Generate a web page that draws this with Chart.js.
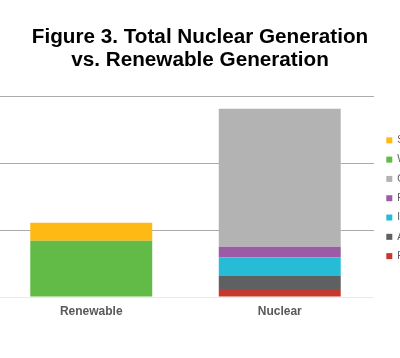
<!DOCTYPE html>
<html><head><meta charset="utf-8">
<script src="https://cdn.jsdelivr.net/npm/chart.js@4.4.1/dist/chart.umd.min.js"></script>
<style>
html,body{margin:0;padding:0;background:#fff;overflow:hidden}
#wrap{position:relative;width:400px;height:358px;overflow:hidden;background:#fff}
#c{position:absolute;left:-3px;top:0}
</style></head><body>
<div id="wrap"><canvas id="c" width="406" height="358"></canvas></div>
<script>
const categories = ["Renewable", "Nuclear"];
// series listed bottom-of-stack first
const seriesNames = ["River Bend", "Arkansas Nuclear One", "Indian Point", "Palo Verde", "Other", "Wind", "Solar"];
const seriesColors = ["#C5392F", "#5F6062", "#27BCD6", "#9B5BA5", "#B3B3B3", "#62BB46", "#FFB914"];
const riverBend   = [0, 12];
const arkansas    = [0, 20];
const indianPoint = [0, 27];
const paloVerde   = [0, 16];
const otherNuc    = [0, 206];
const wind        = [84, 0];
const solar       = [27, 0];
const seriesValues = [riverBend, arkansas, indianPoint, paloVerde, otherNuc, wind, solar];
const yTicks = [0, 100, 200, 300];
const titleLines = ["Figure 3. Total Nuclear Generation", "vs. Renewable Generation"];

const datasets = seriesNames.map((n, i) => ({
  label: n,
  data: seriesValues[i],
  backgroundColor: seriesColors[i],
  borderWidth: 0,
  barPercentage: 0.647,
  categoryPercentage: 1.0
}));

new Chart(document.getElementById('c'), {
  type: 'bar',
  data: { labels: categories, datasets },
  options: {
    responsive: false,
    animation: false,
    devicePixelRatio: 1,
    layout: { padding: { top: 0, left: 0, right: 0, bottom: 32.6 } },
    plugins: {
      title: {
        display: true,
        text: titleLines,
        color: '#000',
        font: { family: '"Liberation Sans", Arial, sans-serif', size: 20.7, weight: 'bold', lineHeight: 1.1 },
        padding: { top: 26, bottom: 24.5 }
      },
      legend: {
        position: 'right',
        align: 'center',
        reverse: true,
        fullSize: false,
        maxWidth: 26,
        title: { display: true, text: ' ', font: { size: 2, lineHeight: 1 }, padding: { top: 0.7, bottom: 0.7 } },
        labels: {
          boxWidth: 6, boxHeight: 6, padding: 9.3,
          color: '#595959',
          font: { family: '"Liberation Sans", Arial, sans-serif', size: 10 }
        }
      },
      tooltip: { enabled: false }
    },
    scales: {
      x: {
        stacked: true,
        grid: { display: false, drawTicks: false },
        border: { display: false },
        ticks: {
          padding: 7,
          color: '#595959',
          font: { family: '"Liberation Sans", Arial, sans-serif', size: 12, weight: 'bold' }
        }
      },
      y: {
        stacked: true,
        min: yTicks[0],
        max: yTicks[yTicks.length - 1],
        afterBuildTicks: s => { s.ticks = yTicks.map(v => ({ value: v })); },
        ticks: { display: false },
        border: { display: false },
        grid: {
          drawTicks: false,
          lineWidth: 1,
          color: ctx => (ctx.tick && ctx.tick.value === 0) ? '#EBEBEB' : '#ABABAB'
        },
        afterFit: s => { s.width = 0; }
      },
      yR: {
        type: 'linear',
        position: 'right',
        display: true,
        grid: { display: false, drawTicks: false },
        ticks: { display: false },
        border: { display: false },
        afterFit: s => { s.width = 3; }
      }
    }
  }
});
</script>
</body></html>
